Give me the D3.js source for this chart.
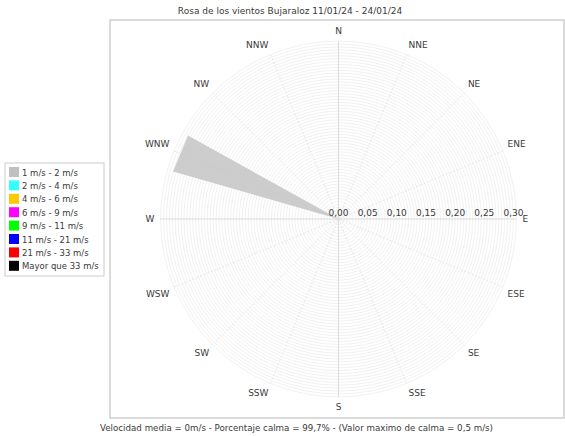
<!DOCTYPE html>
<html>
<head>
<meta charset="utf-8">
<script src="https://cdn.jsdelivr.net/npm/d3@7"></script>
<style>
  body { margin: 0; background: #fff; }
  text { font-family: "DejaVu Sans", sans-serif; fill: #3a3a3a; }
</style>
</head>
<body>
<div id="chart-area"></div>
<script>
// data
const directions = ["N","NNE","NE","ENE","E","ESE","SE","SSE","S","SSW","SW","WSW","W","WNW","NW","NNW"];
const speedClasses = ["1 m/s - 2 m/s","2 m/s - 4 m/s","4 m/s - 6 m/s","6 m/s - 9 m/s","9 m/s - 11 m/s","11 m/s - 21 m/s","21 m/s - 33 m/s","Mayor que 33 m/s"];
const classColors = ["#c0c0c0","#33ffff","#ffc800","#ff00ff","#00ff00","#0000ff","#ff0000","#000000"];
// frequency (%) per direction for class "1 m/s - 2 m/s"
const freqClass1 = [0,0,0,0,0,0,0,0,0,0,0,0,0,0.295,0,0];
const radialTicks = [0, 0.05, 0.10, 0.15, 0.20, 0.25, 0.30];
const titleText = "Rosa de los vientos Bujaraloz 11/01/24 - 24/01/24";
const footerText = "Velocidad media = 0m/s - Porcentaje calma = 99,7% -  (Valor maximo de calma = 0,5 m/s)";

const WIDTH = 565, HEIGHT = 436;
const FRAME = { LEFT: 110, TOP: 20, RIGHT: 564, BOTTOM: 418 };
const CX = 338.5, CY = 219;
const LABEL_R = 183;

const svg = d3.select("#chart-area").append("svg")
  .attr("width", WIDTH)
  .attr("height", HEIGHT);

const r = d3.scaleLinear().domain([0, 0.30]).range([0, 175]);
const angle = d3.scaleBand().domain(directions).range([0, 360]).align(0);
const deg = d => angle(d);   // 0 = north, clockwise
const pt = (a, rad) => [CX + rad * Math.sin(a * Math.PI / 180), CY - rad * Math.cos(a * Math.PI / 180)];

// title
svg.append("text")
  .attr("x", 290).attr("y", 14)
  .attr("text-anchor", "middle")
  .attr("font-size", "9px")
  .text(titleText);

// plot frame
svg.append("rect")
  .attr("x", FRAME.LEFT).attr("y", FRAME.TOP)
  .attr("width", FRAME.RIGHT - FRAME.LEFT).attr("height", FRAME.BOTTOM - FRAME.TOP)
  .attr("fill", "#fff")
  .attr("stroke", "#cfcfcf")
  .attr("stroke-width", 1.5);

const g = svg.append("g");

// concentric grid circles
const circles = d3.range(1, 62).map(i => i * 0.005);
g.selectAll("circle.grid").data(circles).enter().append("circle")
  .attr("class", "grid")
  .attr("cx", CX).attr("cy", CY)
  .attr("r", d => r(d))
  .attr("fill", "none")
  .attr("stroke", "#ededed")
  .attr("stroke-width", 0.8);

// spokes
g.selectAll("line.spoke").data(directions).enter().append("line")
  .attr("class", "spoke")
  .attr("x1", CX).attr("y1", CY)
  .attr("x2", d => pt(deg(d), r(0.305))[0])
  .attr("y2", d => pt(deg(d), r(0.305))[1])
  .attr("stroke", d => deg(d) % 90 === 0 ? "#d4d4d4" : "#e0e0e0")
  .attr("stroke-width", 0.8)
  .attr("stroke-dasharray", d => deg(d) % 90 === 0 ? null : "2,2");

// wedges
const halfWidth = 6.5;
g.selectAll("path.wedge").data(directions.map((d, i) => ({ dir: d, v: freqClass1[i] })).filter(d => d.v > 0))
  .enter().append("path")
  .attr("class", "wedge")
  .attr("d", d => {
    const a = deg(d.dir);
    return "M" + [CX, CY] + "L" + pt(a - halfWidth, r(d.v)) + "L" + pt(a + halfWidth, r(d.v)) + "Z";
  })
  .attr("fill", classColors[0])
  .attr("opacity", 0.8);

// radial axis tick labels
g.selectAll("text.rtick").data(radialTicks).enter().append("text")
  .attr("class", "rtick")
  .attr("x", d => CX + r(d))
  .attr("y", CY - 3)
  .attr("text-anchor", "middle")
  .attr("font-size", "9px")
  .attr("fill", "#555")
  .text(d => d3.format(".2f")(d).replace(".", ","));

// compass labels, anchored by quadrant
const hAnchor = a => (a === 0 || a === 180) ? "middle" : (a < 180 ? "start" : "end");
const vShift = a => (a === 90 || a === 270) ? "0.35em" : ((a < 90 || a > 270) ? "-0.25em" : "0.85em");
g.selectAll("text.dir").data(directions).enter().append("text")
  .attr("class", "dir")
  .attr("x", d => pt(deg(d), LABEL_R)[0])
  .attr("y", d => pt(deg(d), LABEL_R)[1])
  .attr("dx", d => deg(d) === 90 ? 1 : (deg(d) === 270 ? -1 : 0))
  .attr("dy", d => vShift(deg(d)))
  .attr("text-anchor", d => hAnchor(deg(d)))
  .attr("font-size", "9px")
  .text(d => d);

// legend
const legend = svg.append("g").attr("transform", "translate(5,163)");
legend.append("rect")
  .attr("width", 99).attr("height", 113)
  .attr("fill", "#fff")
  .attr("stroke", "#cccccc");
const items = legend.selectAll("g.item").data(speedClasses).enter().append("g")
  .attr("class", "item")
  .attr("transform", (d, i) => `translate(4, ${4 + i * 13.4})`);
items.append("rect")
  .attr("width", 10).attr("height", 10)
  .attr("fill", (d, i) => classColors[i]);
items.append("text")
  .attr("x", 13).attr("y", 8.5)
  .attr("font-size", "8.5px")
  .text(d => d);

// footer
svg.append("text")
  .attr("x", 100).attr("y", 431)
  .attr("font-size", "8.7px")
  .text(footerText);
</script>
</body>
</html>
